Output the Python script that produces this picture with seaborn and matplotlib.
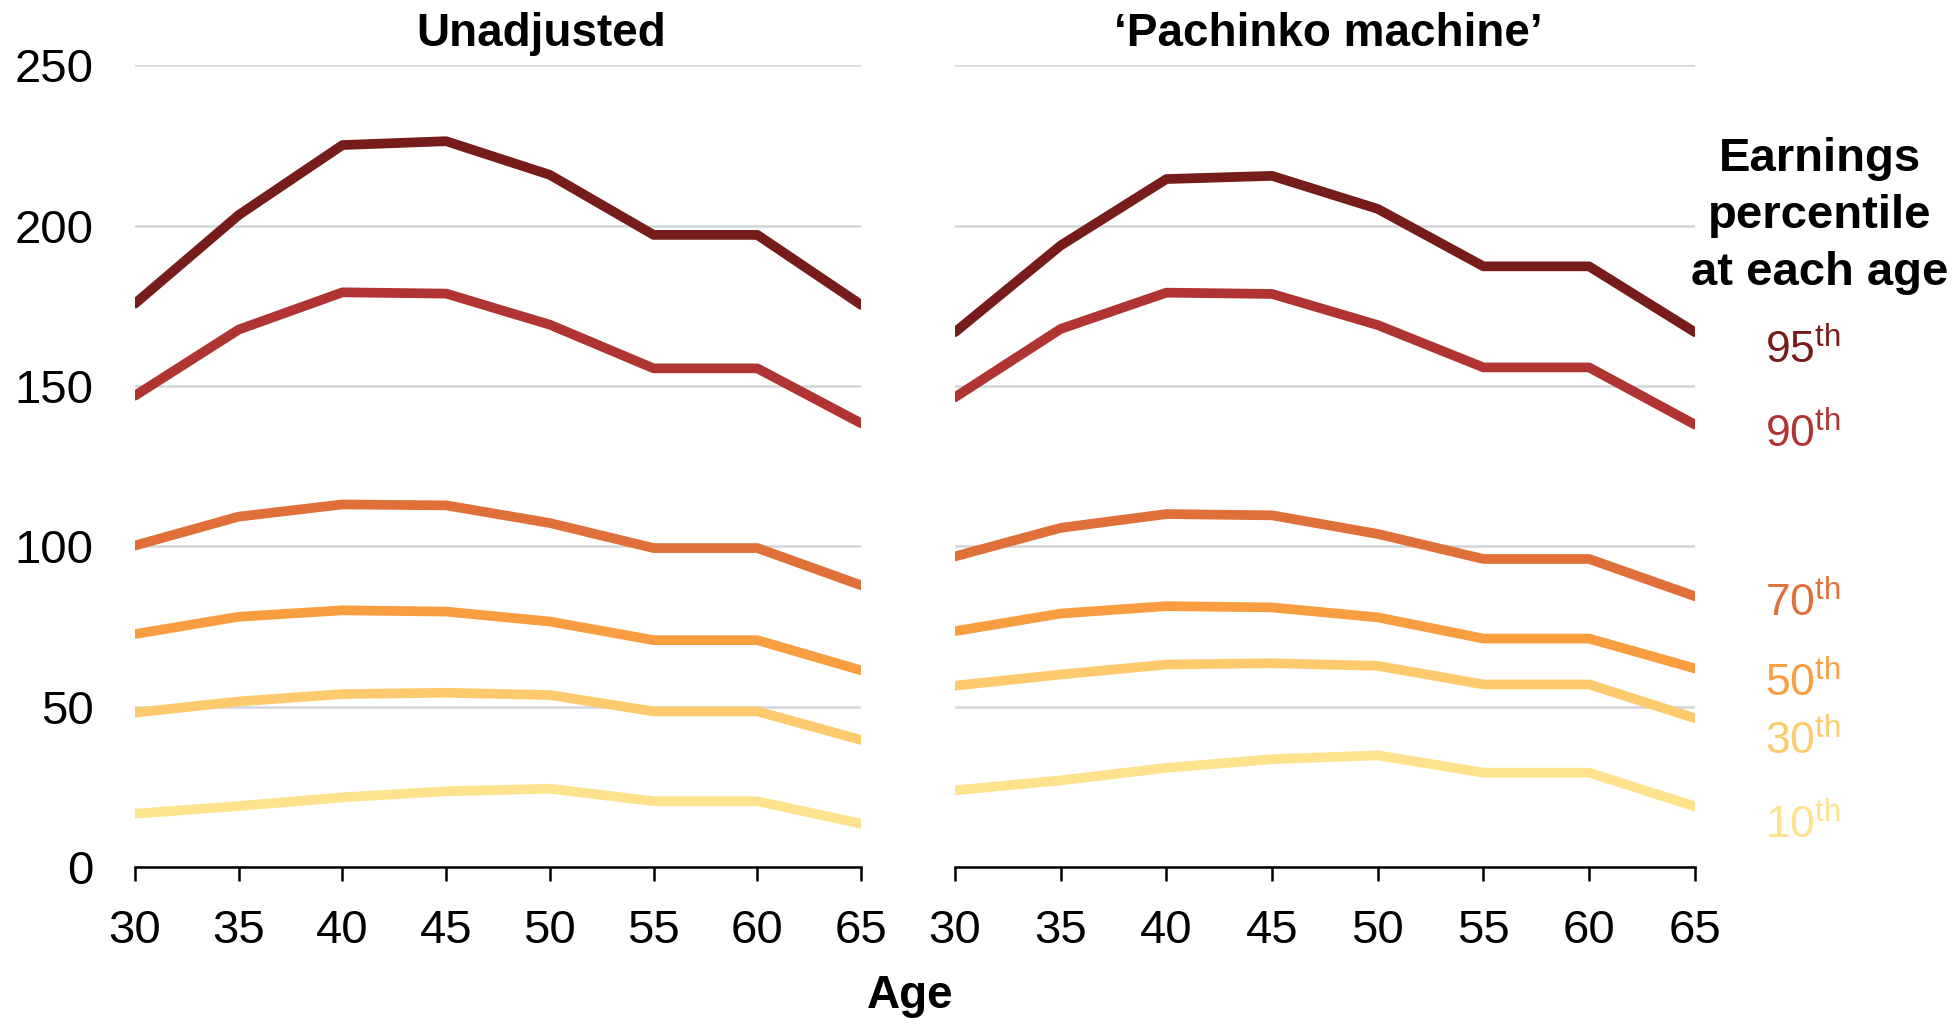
import pandas as pd
import matplotlib.pyplot as plt
import seaborn as sns

# Ages on the x axis
ages = [30, 35, 40, 45, 50, 55, 60, 65]
percentiles = ['95th', '90th', '70th', '50th', '30th', '10th']

# Earnings by percentile, unadjusted panel
unadj_95 = [175.7, 203.3, 225.1, 226.3, 215.8, 197.1, 197.1, 175.3]
unadj_90 = [147.0, 167.6, 179.2, 178.8, 169.1, 155.5, 155.5, 138.4]
unadj_70 = [100.3, 109.3, 113.1, 112.8, 107.3, 99.5, 99.5, 87.9]
unadj_50 = [72.7, 78.1, 80.1, 79.7, 76.6, 70.8, 70.8, 61.4]
unadj_30 = [48.2, 51.7, 54.0, 54.4, 53.7, 48.6, 48.6, 39.7]
unadj_10 = [16.7, 19.1, 21.8, 23.7, 24.5, 20.6, 20.6, 13.6]

# Earnings by percentile, 'Pachinko machine' panel
pach_95 = [166.8, 193.8, 214.5, 215.5, 205.2, 187.3, 187.3, 166.8]
pach_90 = [146.5, 167.8, 179.1, 178.7, 169.0, 155.8, 155.8, 138.0]
pach_70 = [96.9, 105.8, 110.1, 109.7, 103.9, 96.1, 96.1, 84.5]
pach_50 = [73.6, 79.1, 81.4, 81.0, 77.9, 71.3, 71.3, 62.0]
pach_30 = [56.6, 60.1, 63.2, 63.6, 62.8, 57.0, 57.0, 46.5]
pach_10 = [24.0, 27.1, 31.0, 33.7, 34.9, 29.5, 29.5, 19.0]

colors = {'95th': '#761c1a', '90th': '#b03432', '70th': '#e0703a',
          '50th': '#f99d41', '30th': '#fdcb6e', '10th': '#fee28e'}


def to_long(series):
    rows = []
    for p, vals in zip(percentiles, series):
        for a, v in zip(ages, vals):
            rows.append({'Age': a, 'Earnings': v, 'Percentile': p})
    return pd.DataFrame(rows)


unadj_df = to_long([unadj_95, unadj_90, unadj_70, unadj_50, unadj_30, unadj_10])
pach_df = to_long([pach_95, pach_90, pach_70, pach_50, pach_30, pach_10])

sns.set_style('white')
plt.rcParams['font.family'] = ['Liberation Sans', 'DejaVu Sans']
plt.rcParams['mathtext.fontset'] = 'custom'
plt.rcParams['mathtext.rm'] = 'Liberation Sans'
plt.rcParams['text.color'] = 'black'
plt.rcParams['xtick.color'] = 'black'
plt.rcParams['ytick.color'] = 'black'
plt.rcParams['xtick.labelcolor'] = 'black'
plt.rcParams['ytick.labelcolor'] = 'black'

fig = plt.figure(figsize=(19.57, 10.18), dpi=100)
ax1 = fig.add_axes([0.069, 0.148, 0.371, 0.788])
ax2 = fig.add_axes([0.488, 0.148, 0.378, 0.788])

for ax, df, title, tx in [(ax1, unadj_df, 'Unadjusted', 0.559),
                          (ax2, pach_df, '\u2018Pachinko machine\u2019', 0.505)]:
    sns.lineplot(data=df, x='Age', y='Earnings', hue='Percentile', palette=colors,
                 linewidth=7, ax=ax, legend=False)
    ax.set_xlim(30, 65)
    ax.set_ylim(0, 250)
    ax.set_xticks(ages)
    ax.set_yticks([0, 50, 100, 150, 200, 250])
    ax.yaxis.grid(True, color='#d3d6da', linewidth=1.8)
    ax.set_axisbelow(True)
    for s in ['top', 'right', 'left']:
        ax.spines[s].set_visible(False)
    ax.spines['bottom'].set_color('black')
    ax.spines['bottom'].set_linewidth(1.8)
    ax.spines['bottom'].set_zorder(5)
    ax.tick_params(axis='x', bottom=True, direction='out', length=10, width=1.8,
                   color='black', labelsize=34, pad=20)
    ax.tick_params(axis='y', left=False, length=0, labelsize=34, pad=30)
    ax.set_xlabel('')
    ax.set_ylabel('')
    ax.set_title(title, fontsize=33, fontweight='bold', pad=14, x=tx)

ax2.set_yticklabels([])

fig.text(0.465, 0.022, 'Age', ha='center', va='center', fontsize=33, fontweight='bold')
fig.text(0.930, 0.788, 'Earnings\npercentile\nat each age', ha='center', va='center',
         fontsize=34, fontweight='bold', linespacing=1.38)

label_y = {'95th': 0.656, '90th': 0.573, '70th': 0.407, '50th': 0.329, '30th': 0.272, '10th': 0.189}
for p in percentiles:
    fig.text(0.902, label_y[p], p[:2] + r'$^{\mathrm{th}}$', ha='left', va='center',
             fontsize=32, color=colors[p])

fig.savefig('out.png', dpi=100)
